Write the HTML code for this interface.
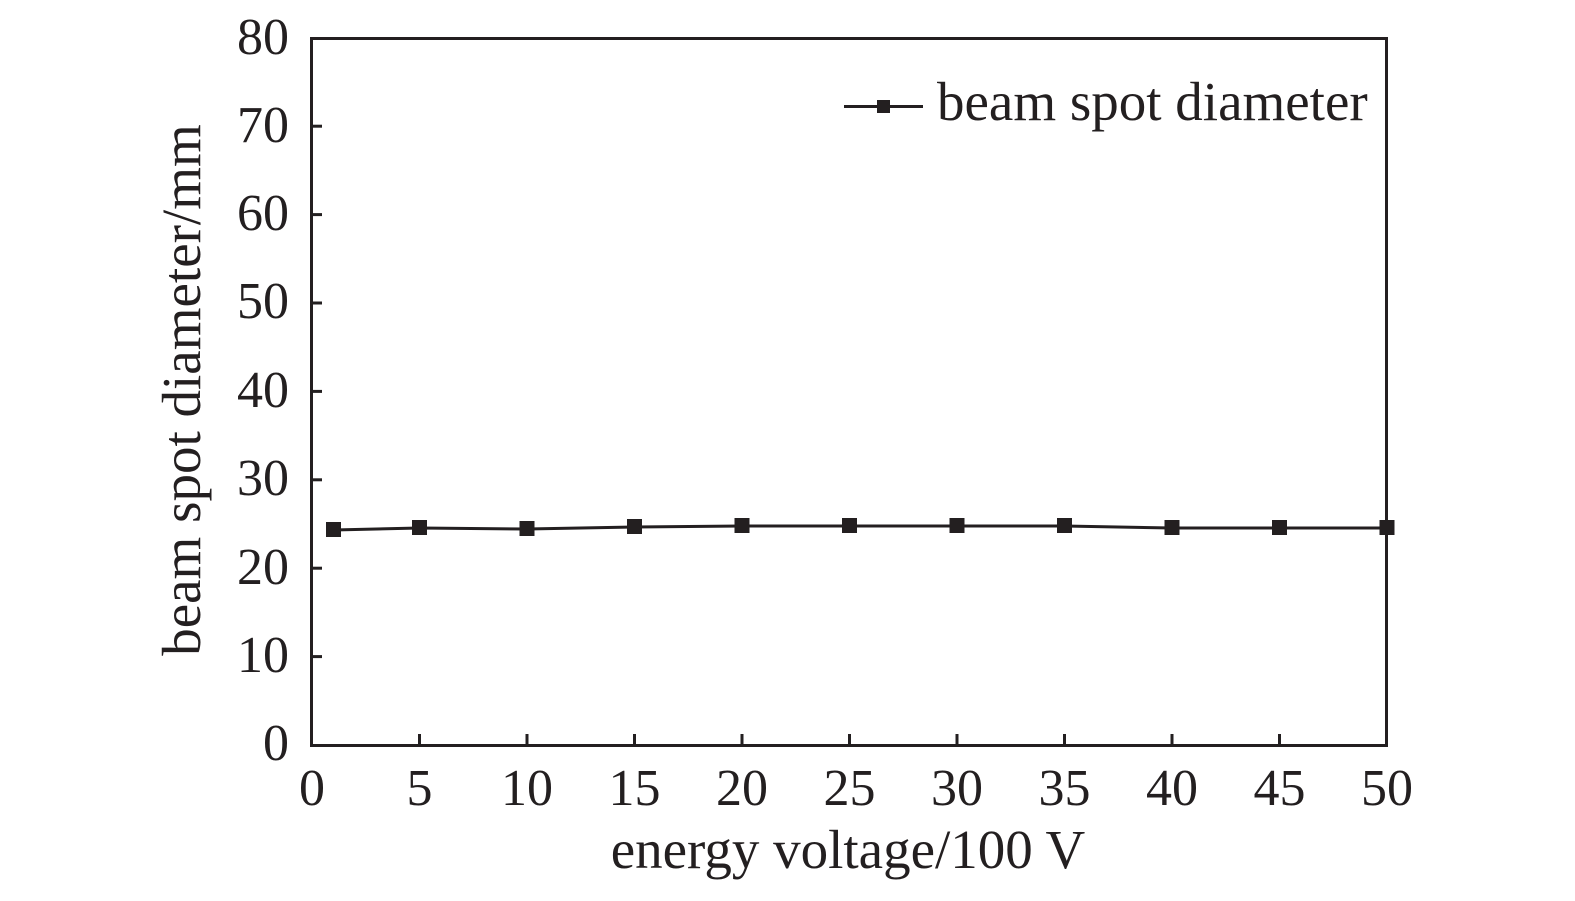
<!DOCTYPE html>
<html><head><meta charset="utf-8"><style>html,body{margin:0;padding:0;background:#fff}</style></head>
<body>
<svg width="1575" height="896" xmlns="http://www.w3.org/2000/svg" font-family="Liberation Serif, serif" fill="#231f20">
<rect width="1575" height="896" fill="#fff"/>
<rect x="311.5" y="38.5" width="1075" height="707" fill="none" stroke="#231f20" stroke-width="3"/>
<g stroke="#231f20" stroke-width="3">
<line x1="311" y1="656.6" x2="322" y2="656.6"/><line x1="311" y1="568.2" x2="322" y2="568.2"/>
<line x1="311" y1="479.8" x2="322" y2="479.8"/><line x1="311" y1="391.4" x2="322" y2="391.4"/>
<line x1="311" y1="303" x2="322" y2="303"/><line x1="311" y1="214.6" x2="322" y2="214.6"/>
<line x1="311" y1="126.2" x2="322" y2="126.2"/>
<line x1="419.5" y1="745" x2="419.5" y2="734"/><line x1="527" y1="745" x2="527" y2="734"/>
<line x1="634.5" y1="745" x2="634.5" y2="734"/><line x1="742" y1="745" x2="742" y2="734"/>
<line x1="849.5" y1="745" x2="849.5" y2="734"/><line x1="957" y1="745" x2="957" y2="734"/>
<line x1="1064.5" y1="745" x2="1064.5" y2="734"/><line x1="1172" y1="745" x2="1172" y2="734"/>
<line x1="1279.5" y1="745" x2="1279.5" y2="734"/>
</g>
<g font-size="52" text-anchor="end">
<text x="289" y="760">0</text><text x="289" y="672">10</text><text x="289" y="584">20</text>
<text x="289" y="495">30</text><text x="289" y="407">40</text><text x="289" y="318">50</text>
<text x="289" y="230">60</text><text x="289" y="142">70</text><text x="289" y="54">80</text>
</g>
<g font-size="52" text-anchor="middle">
<text x="312" y="805">0</text><text x="419.5" y="805">5</text><text x="527" y="805">10</text>
<text x="634.5" y="805">15</text><text x="742" y="805">20</text><text x="849.5" y="805">25</text>
<text x="957" y="805">30</text><text x="1064.5" y="805">35</text><text x="1172" y="805">40</text>
<text x="1279.5" y="805">45</text><text x="1387" y="805">50</text>
</g>
<text x="848" y="868" font-size="55" text-anchor="middle">energy voltage/100 V</text>
<text transform="translate(200,390) rotate(-90)" font-size="55" text-anchor="middle">beam spot diameter/mm</text>
<polyline fill="none" stroke="#231f20" stroke-width="3" points="333.5,530 419.5,528 527,529 634.5,527 742,526 849.5,526 957,526 1064.5,526 1172,528 1279.5,528 1387,528"/>
<g>
<rect x="326" y="522" width="15" height="15"/><rect x="412" y="520" width="15" height="15"/>
<rect x="519.5" y="521" width="15" height="15"/><rect x="627" y="519" width="15" height="15"/>
<rect x="734.5" y="518" width="15" height="15"/><rect x="842" y="518" width="15" height="15"/>
<rect x="949.5" y="518" width="15" height="15"/><rect x="1057" y="518" width="15" height="15"/>
<rect x="1164.5" y="520" width="15" height="15"/><rect x="1272" y="520" width="15" height="15"/>
<rect x="1379.5" y="520" width="15" height="15"/>
</g>
<line x1="844" y1="106.5" x2="923" y2="106.5" stroke="#231f20" stroke-width="3"/>
<rect x="877" y="100" width="13" height="13"/>
<text x="937" y="120" font-size="55">beam spot diameter</text>
</svg>
</body></html>
